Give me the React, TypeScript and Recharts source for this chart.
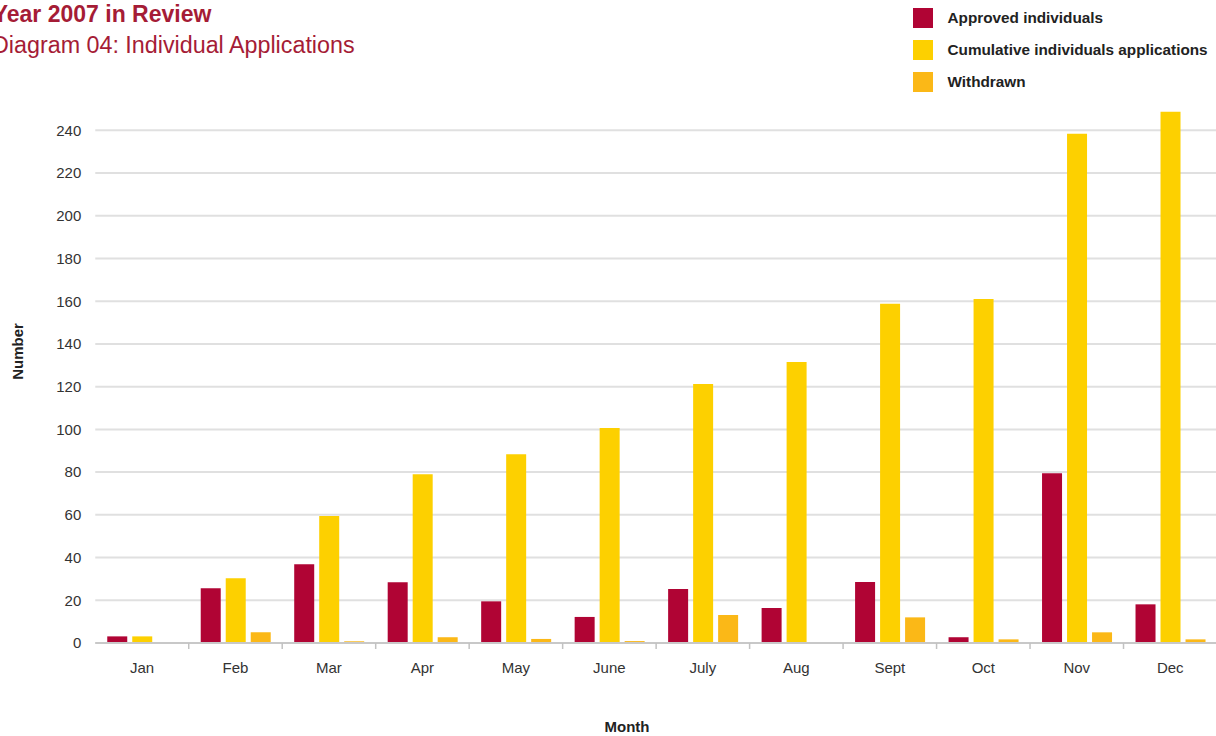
import { BarChart, Bar, XAxis, YAxis, CartesianGrid, Legend } from "recharts";

const months = ["Jan", "Feb", "Mar", "Apr", "May", "June", "July", "Aug", "Sept", "Oct", "Nov", "Dec"];
const approved = [3.1, 25.6, 36.9, 28.4, 19.5, 12.2, 25.3, 16.4, 28.6, 2.7, 79.5, 18.1];
const cumulative = [3.1, 30.3, 59.4, 79.0, 88.4, 100.7, 121.3, 131.6, 158.8, 161.1, 238.4, 248.7];
const withdrawn = [0, 5.0, 0.8, 2.7, 1.9, 0.9, 13.1, 0, 12.0, 1.7, 5.0, 1.7];
const yTicks = [0, 20, 40, 60, 80, 100, 120, 140, 160, 180, 200, 220, 240];

const data = months.map((month, i) => ({
  month,
  approved: approved[i],
  cumulative: cumulative[i],
  withdrawn: withdrawn[i],
}));

const FONT = '"Liberation Sans", Arial, Helvetica, sans-serif';
const RED = "#a51c36";
const W = 1218;
const H = 736;
const MARGIN = { top: 109, right: 1, bottom: 43, left: 0 };
const Y_W = 95.25;
const BAND = (W - MARGIN.left - MARGIN.right - Y_W) / months.length;

// month label centred in the band, small tick mark on the left edge of the band
function MonthTick({ x, y, payload, index }: any) {
  const edge = x - BAND / 2;
  return (
    <g>
      {index > 0 && <line x1={edge} x2={edge} y1={y} y2={y + 6} stroke="#c2c2c2" strokeWidth={1.5} />}
      <text x={x} y={y + 30} textAnchor="middle" fill="#333" fontSize={15} fontFamily={FONT}>
        {payload.value}
      </text>
    </g>
  );
}

// only draw grid lines that sit on a labelled tick (skip the domain top edge)
function GridLine(props: any) {
  const { x1, x2, y1, y2, stroke, strokeWidth, index } = props;
  if (index >= yTicks.length) return <g />;
  return <line x1={x1} x2={x2} y1={y1} y2={y2} stroke={stroke} strokeWidth={strokeWidth} />;
}

const renderLegend = ({ payload }: any) => (
  <div style={{ fontFamily: FONT }}>
    {(payload || []).map((p: any) => (
      <div key={p.value} style={{ display: "flex", alignItems: "center", height: 32 }}>
        <span style={{ width: 20, height: 20, background: p.color, marginRight: 14.5, flex: "none" }} />
        <span style={{ fontSize: 15.3, fontWeight: 700, color: "#222", whiteSpace: "nowrap" }}>{p.value}</span>
      </div>
    ))}
  </div>
);

export default function App() {
  return (
    <div
      style={{
        position: "fixed",
        left: 0,
        top: 0,
        width: 1216,
        height: 736,
        overflow: "hidden",
        background: "#fff",
        fontFamily: FONT,
      }}
    >
      <BarChart width={W} height={H} data={data} margin={MARGIN} barGap={5}>
        <CartesianGrid vertical={false} stroke="#e0e0e0" strokeWidth={2} syncWithTicks horizontal={<GridLine />} />
        <XAxis
          dataKey="month"
          interval={0}
          height={50}
          axisLine={{ stroke: "#c8c8c8", strokeWidth: 2 }}
          tickLine={false}
          tickSize={0}
          tickMargin={0}
          tick={<MonthTick />}
          label={() => (
            <text x={627} y={732} textAnchor="middle" fontSize={15} fontWeight={700} fill="#222" fontFamily={FONT}>
              Month
            </text>
          )}
        />
        <YAxis
          width={Y_W}
          domain={[0, 250]}
          ticks={yTicks}
          interval={0}
          axisLine={false}
          tickLine={false}
          tickSize={0}
          tickMargin={14}
          tick={{ fill: "#333", fontSize: 15, fontFamily: FONT }}
          label={() => (
            <text
              x={23}
              y={351.5}
              transform="rotate(-90 23 351.5)"
              textAnchor="middle"
              fontSize={15}
              fontWeight={700}
              fill="#222"
              fontFamily={FONT}
            >
              Number
            </text>
          )}
        />
        <Legend
          content={renderLegend}
          layout="horizontal"
          verticalAlign="middle"
          align="center"
          wrapperStyle={{ top: 2, left: 913, width: 310, height: 96 }}
        />
        <Bar dataKey="approved" name="Approved individuals" fill="#b00434" barSize={20} isAnimationActive={false} />
        <Bar dataKey="cumulative" name="Cumulative individuals applications" fill="#fdd000" barSize={20} isAnimationActive={false} />
        <Bar dataKey="withdrawn" name="Withdrawn" fill="#fbb817" barSize={20} isAnimationActive={false} />
      </BarChart>
      <div
        style={{
          position: "absolute",
          left: -7.3,
          top: 2.5,
          fontSize: 23,
          lineHeight: "23px",
          fontWeight: 700,
          color: RED,
          whiteSpace: "nowrap",
        }}
      >
        Year 2007 in Review
      </div>
      <div
        style={{
          position: "absolute",
          left: -8,
          top: 33.6,
          fontSize: 23.3,
          lineHeight: "23.3px",
          color: RED,
          whiteSpace: "nowrap",
        }}
      >
        Diagram 04: Individual Applications
      </div>
    </div>
  );
}
